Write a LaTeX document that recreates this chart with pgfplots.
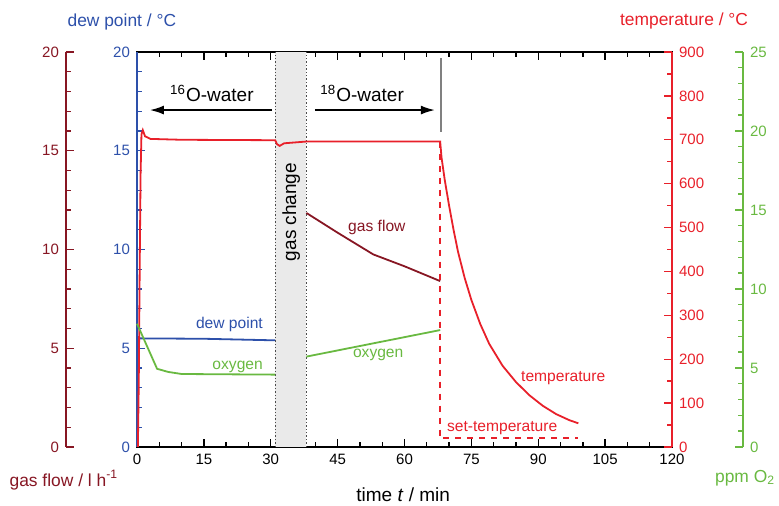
\documentclass[border=0pt]{standalone}
\usepackage{fontspec}
\setmainfont{Liberation Sans}
\usepackage{pgfplots}
\pgfplotsset{compat=1.18}
\usetikzlibrary{arrows.meta}

\definecolor{dewblue}{RGB}{45,80,170}
\definecolor{tempred}{RGB}{232,32,42}
\definecolor{flowred}{RGB}{135,22,35}
\definecolor{oxgreen}{RGB}{105,185,65}
\definecolor{gaschg}{RGB}{234,234,234}

\pgfplotsset{
  base/.style={
    scale only axis, width=267.5pt, height=197.5pt,
    xmin=0, xmax=120,
    tick align=inside,
    major tick length=4pt, minor tick length=2.5pt,
    tick label style={font=\fontsize{7.5}{8}\selectfont},
    /pgf/number format/assume math mode=true,
    every tick/.style={line width=0.7pt},
    clip=false,
  },
  yaxis/.style={
    base, axis x line=none,
    y axis line style={#1, line width=0.8pt},
    y tick style={#1, line width=0.7pt},
    yticklabel style={#1},
  },
}
\newcommand{\ann}{\fontsize{7.8}{9}\selectfont}
\newcommand{\lab}{\fontsize{8.7}{10}\selectfont}

\begin{document}
\begin{tikzpicture}
\useasboundingbox (-68.5pt,-29.5pt) rectangle (321pt,223.5pt);

% main axis: time vs dew point (also gas flow, same scale)
\begin{axis}[base, ymin=0, ymax=20,
  xtick={0,15,...,120}, minor x tick num=2,
  ytick={0,5,...,20}, minor y tick num=4,
  ytick pos=left, xtick pos=both, xticklabel pos=bottom,
  axis line style={line width=0.75pt},
  y tick style={dewblue}, yticklabel style={dewblue},
]
\fill[gaschg] (axis cs:31,0) rectangle (axis cs:38,20);
\draw[densely dotted, black!70, line width=0.7pt] (axis cs:31,0) -- (axis cs:31,20);
\draw[densely dotted, black!70, line width=0.7pt] (axis cs:38,0) -- (axis cs:38,20);
\draw[dewblue, line width=0.8pt] (rel axis cs:0,0) -- (rel axis cs:0,1);

\addplot[flowred, line width=0.9pt, mark=none]
  coordinates {(38,11.85)(45,10.85)(53,9.75)(60,9.15)(68,8.4)};
\addplot[dewblue, line width=0.9pt, mark=none]
  coordinates {(0,5.5)(15,5.48)(31,5.4)};

\node[font=\fontsize{9.5}{11}\selectfont] at (axis cs:16.8,17.9) {\textsuperscript{16}O-water};
\node[font=\fontsize{9.5}{11}\selectfont] at (axis cs:50.5,17.9) {\textsuperscript{18}O-water};
\draw[-{Latex[length=7pt,width=4.5pt]}, line width=0.8pt] (axis cs:30.3,17.06) -- (axis cs:2.9,17.06);
\draw[-{Latex[length=7pt,width=4.5pt]}, line width=0.8pt] (axis cs:39.9,17.06) -- (axis cs:66.8,17.06);
\draw[gray, line width=0.7pt] (axis cs:68.2,15.95) -- (axis cs:68.2,19.7);
\node[rotate=90, font=\fontsize{9.5}{11}\selectfont] at (axis cs:34.6,11.9) {gas change};

\node[dewblue, anchor=east, font=\ann] at (axis cs:29.8,6.18) {dew point};
\node[oxgreen, anchor=east, font=\ann] at (axis cs:29.8,4.05) {oxygen};
\node[flowred, font=\ann] at (axis cs:53.8,11.1) {gas flow};
\node[oxgreen, font=\ann] at (axis cs:54.1,4.66) {oxygen};
\node[tempred, font=\ann] at (axis cs:95.6,3.49) {temperature};
\node[tempred, font=\ann] at (axis cs:81.9,0.96) {set-temperature};

\node[dewblue, font=\lab] at (axis cs:-3.4,21.5) {dew point / °C};
\node[tempred, font=\lab] at (axis cs:122.7,21.55) {temperature / °C};
\node[flowred, font=\lab] at (axis cs:-16.4,-1.67) {gas flow / l h\textsuperscript{-1}};
\node[oxgreen, font=\lab] at (axis cs:136.4,-1.57) {ppm O\textsubscript{2}};
\node[font=\fontsize{9.5}{11}\selectfont] at (axis cs:59.7,-2.43) {time \textit{t} / min};
\end{axis}

% temperature axis
\begin{axis}[yaxis=tempred, ymin=0, ymax=900, axis y line*=right,
  ytick={0,100,...,900}, minor y tick num=1]
\addplot[tempred, line width=0.9pt, mark=none] coordinates {
  (0.2,0)(0.4,150)(0.6,400)(0.8,620)(1.0,712)(1.3,722)(1.8,708)(3,702)
  (10,700)(31,699)(31.4,690)(32,686)(33,692)(38,696)(68,696)
  (68.3,660)(69,610)(70,550)(71,495)(72,445)(73.5,385)(75,335)
  (77,280)(79,235)(82,185)(85,148)(88,118)(91,94)(94,75)(97,61)(99,54)};
\addplot[tempred, dashed, line width=0.8pt, mark=none]
  coordinates {(68,696)(68,20)(99,20)};
\end{axis}

% oxygen data
\begin{axis}[base, ymin=0, ymax=25, hide axis]
\addplot[oxgreen, line width=0.9pt, mark=none] coordinates {
  (0,7.8)(0.8,7.3)(4.5,4.95)(7,4.75)(10,4.62)(20,4.6)(31,4.58)};
\addplot[oxgreen, line width=0.9pt, mark=none] coordinates {(38,5.72)(68,7.4)};
\end{axis}

% ppm O2 axis (offset)
\begin{axis}[yaxis=oxgreen, at={(35.5pt,0)}, ymin=0, ymax=25, axis y line*=right,
  ytick={0,5,...,25}, minor y tick num=4]
\end{axis}

% gas flow axis (offset)
\begin{axis}[yaxis=flowred, at={(-35.5pt,0)}, ymin=0, ymax=20, axis y line*=left,
  ytick={0,5,...,20}, minor y tick num=4]
\end{axis}
\end{tikzpicture}
\end{document}
